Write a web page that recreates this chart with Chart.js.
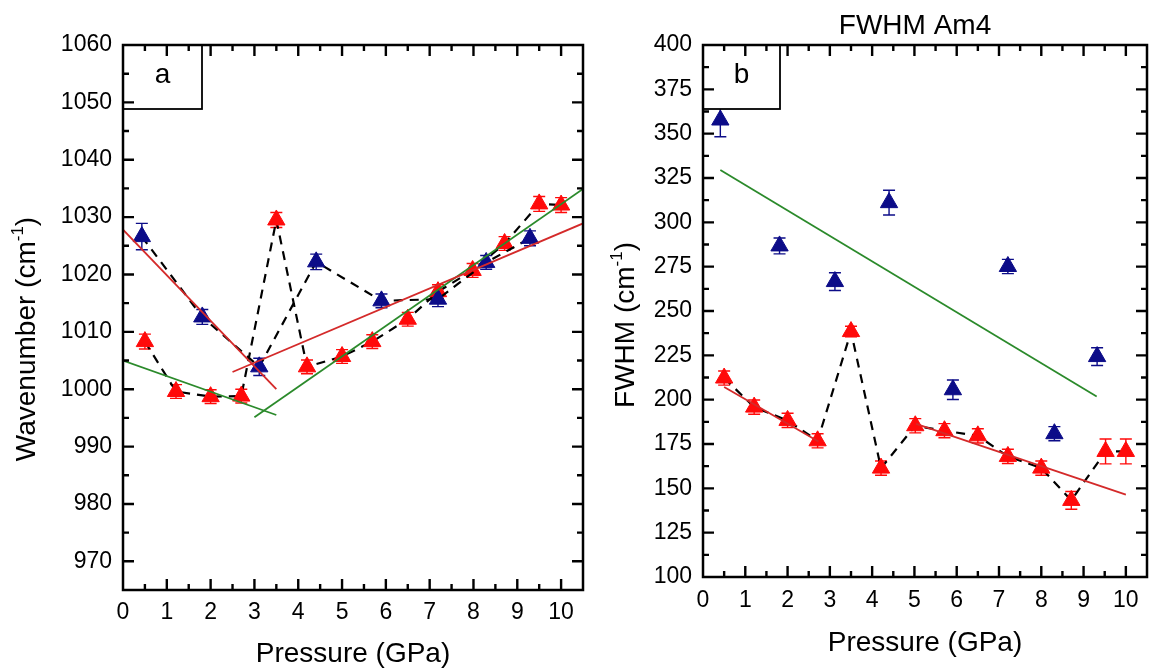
<!DOCTYPE html>
<html>
<head>
<meta charset="utf-8">
<script src="https://cdn.jsdelivr.net/npm/chart.js@4.4.1/dist/chart.umd.min.js"></script>
<style>
  html, body { margin:0; padding:0; background:#fff; }
  body { width:1158px; height:671px; position:relative; overflow:hidden; }
  .wrap { position:absolute; top:0; height:671px; }
</style>
</head>
<body>
<div class="wrap" style="left:0;width:600px;"><canvas id="ca"></canvas></div>
<div class="wrap" style="left:600px;width:558px;"><canvas id="cb"></canvas></div>
<script>
// ---------- DATA ----------
const xTickLabels = [0,1,2,3,4,5,6,7,8,9,10];
const aYTicks = [970,980,990,1000,1010,1020,1030,1040,1050,1060];
const bYTicks = [100,125,150,175,200,225,250,275,300,325,350,375,400];

// Panel a: wavenumber
const aBlueP   = [0.43,1.81,3.11,4.41,5.90,7.19,8.29,9.29];
const aBlueW   = [1026.6,1012.6,1003.9,1022.2,1015.4,1015.7,1022.1,1026.3];
const aBlueErr = [2.3,1.3,1.5,1.35,1.2,1.3,1.2,1.3];
const aRedP    = [0.50,1.21,2.00,2.70,3.50,4.20,5.00,5.69,6.50,7.19,7.98,8.71,9.50,10.00];
const aRedW    = [1008.3,999.6,998.7,998.8,1029.5,1003.9,1005.7,1008.3,1012.2,1017.0,1020.7,1025.4,1032.3,1032.1];
const aRedErr  = [1.3,1.2,1.2,1.2,1.3,1.2,1.2,1.2,1.2,1.2,1.2,1.2,1.3,1.3];
const aFitRed1P = [0, 3.5],    aFitRed1W = [1027.8, 1000.0];
const aFitRed2P = [2.5, 10.5], aFitRed2W = [1003.0, 1028.9];
const aFitGrn1P = [0, 3.5],    aFitGrn1W = [1005.0, 995.5];
const aFitGrn2P = [3.0, 10.5], aFitGrn2W = [995.1, 1034.9];

// Panel b: FWHM
const bBlueP   = [0.41,1.81,3.12,4.40,5.91,7.21,8.31,9.32];
const bBlueF   = [357.7,286.7,266.6,311.1,205.6,275.1,180.8,224.3];
const bBlueErr = [9.4,4.5,5.0,7.0,5.5,4.0,4.0,5.0];
const bRedP    = [0.50,1.21,2.00,2.71,3.50,4.21,5.02,5.71,6.50,7.21,8.00,8.71,9.52,10.00];
const bRedF    = [212.2,195.8,188.3,176.8,238.4,161.4,185.3,182.5,179.6,168.0,161.4,143.2,170.8,170.8];
const bRedErr  = [4,4,4,4,3,4,4,4,4,4,4,5,7,7];
const bFitGrnP  = [0.41, 9.31], bFitGrnF  = [329.5, 201.8];
const bFitRed1P = [0.5, 2.73],  bFitRed1F = [207.1, 176.4];
const bFitRed2P = [5.04, 10.0], bFitRed2F = [186.4, 146.4];

// ---------- STYLE ----------
const FONT = "'Liberation Sans', Arial, Helvetica, sans-serif";
Chart.defaults.font.family = FONT;
Chart.defaults.color = '#000';
const BLUE = '#0c0c88';
const RED = '#ff0a0a';
const FITRED = '#d42a2a';
const FITGRN = '#2b8a2b';

const pts = (xs, ys) => xs.map((x, i) => ({x, y: ys[i]}));

function markerSet(label, xs, ys, errs, color, dashed) {
  return {
    label, data: pts(xs, ys), errors: errs, errColor: color,
    showLine: dashed, borderColor: '#000', borderWidth: 2.2, borderDash: [9,7],
    pointStyle: 'triangle', pointRadius: 10, pointBorderWidth: 1,
    pointBackgroundColor: color, pointBorderColor: color, order: 5
  };
}
function fitSet(label, xs, ys, color) {
  return {
    label, data: pts(xs, ys), borderColor: color, borderWidth: 1.8,
    pointRadius: 0, showLine: true, order: 1
  };
}

const panelPlugin = {
  id: 'panel',
  beforeDatasetsDraw(chart) {
    const ctx = chart.ctx, xs = chart.scales.x, ys = chart.scales.y;
    chart.data.datasets.forEach(ds => {
      if (!ds.errors) return;
      ctx.save();
      ctx.strokeStyle = ds.errColor; ctx.lineWidth = 1.4;
      ds.data.forEach((p, i) => {
        const e = ds.errors[i];
        const px = xs.getPixelForValue(p.x);
        const y1 = ys.getPixelForValue(p.y + e), y2 = ys.getPixelForValue(p.y - e);
        ctx.beginPath();
        ctx.moveTo(px, y1); ctx.lineTo(px, y2);
        ctx.moveTo(px - 6, y1); ctx.lineTo(px + 6, y1);
        ctx.moveTo(px - 6, y2); ctx.lineTo(px + 6, y2);
        ctx.stroke();
      });
      ctx.restore();
    });
  },
  afterDatasetsDraw(chart, args, o) {
    const ctx = chart.ctx, a = chart.chartArea, xs = chart.scales.x, ys = chart.scales.y;
    ctx.save();
    // panel letter box
    ctx.fillStyle = '#fff';
    ctx.fillRect(a.left, a.top, o.boxW, o.boxH);
    ctx.strokeStyle = '#000'; ctx.lineWidth = 1.8;
    ctx.strokeRect(a.left, a.top, o.boxW, o.boxH);
    ctx.fillStyle = '#000';
    ctx.font = `28px ${FONT}`; ctx.textAlign = 'center'; ctx.textBaseline = 'middle';
    ctx.fillText(o.letter, a.left + o.boxW / 2, a.top + o.boxH / 2 - 2);
    // frame
    ctx.lineWidth = 2.5; ctx.strokeStyle = '#000';
    ctx.strokeRect(a.left, a.top, a.right - a.left, a.bottom - a.top);
    // ticks
    const MJ = 11, MN = 6;
    ctx.lineWidth = 2.4;
    ctx.beginPath();
    const xv = [];
    for (let v = xs.min; v <= xs.max + 1e-9; v += 0.5) xv.push(v);
    xv.forEach(v => {
      const px = xs.getPixelForValue(v);
      const L = Math.abs(v - Math.round(v)) < 1e-6 ? MJ : MN;
      if (px <= a.left + 1 || px >= a.right - 1) return;
      ctx.moveTo(px, a.bottom); ctx.lineTo(px, a.bottom - L);
      ctx.moveTo(px, a.top); ctx.lineTo(px, a.top + L);
    });
    const yt = o.yTicks, step = (yt[1] - yt[0]) / 2;
    for (let v = ys.min; v <= ys.max + 1e-9; v += 0.5 * step) {
      const rel = (v - yt[0]) / step;
      if (Math.abs(rel - Math.round(rel)) > 1e-6) continue;
      const py = ys.getPixelForValue(v);
      if (py <= a.top + 1 || py >= a.bottom - 1) continue;
      const L = Math.round(rel) % 2 === 0 ? MJ : MN;
      ctx.moveTo(a.left, py); ctx.lineTo(a.left + L, py);
      ctx.moveTo(a.right, py); ctx.lineTo(a.right - L, py);
    }
    ctx.stroke();
    // y title with superscript
    const S = 28;
    ctx.translate(o.yTitleX, o.yTitleY); ctx.rotate(-Math.PI / 2);
    ctx.textAlign = 'left'; ctx.textBaseline = 'alphabetic';
    ctx.font = `${S}px ${FONT}`; const w1 = ctx.measureText(o.yTitle).width;
    const w3 = ctx.measureText(')').width;
    ctx.font = `${Math.round(S * 0.6)}px ${FONT}`; const w2 = ctx.measureText('-1').width;
    let x0 = -(w1 + w2 + w3) / 2; const by = 0.35 * S;
    ctx.font = `${S}px ${FONT}`; ctx.fillText(o.yTitle, x0, by);
    ctx.font = `${Math.round(S * 0.6)}px ${FONT}`; ctx.fillText('-1', x0 + w1, by - 0.42 * S);
    ctx.font = `${S}px ${FONT}`; ctx.fillText(')', x0 + w1 + w2, by);
    ctx.restore();
    if (o.title) {
      ctx.save();
      ctx.font = `28px ${FONT}`; ctx.fillStyle = '#000';
      ctx.textAlign = 'center'; ctx.textBaseline = 'middle';
      ctx.fillText(o.title, o.titleX, o.titleY);
      ctx.restore();
    }
  }
};

function makeChart(id, datasets, cfg) {
  return new Chart(document.getElementById(id), {
    type: 'line',
    data: { datasets },
    plugins: [panelPlugin],
    options: {
      responsive: true, maintainAspectRatio: false, animation: false,
      layout: { padding: { left: 0, right: cfg.padRight, top: 45, bottom: 0 } },
      plugins: {
        legend: { display: false }, tooltip: { enabled: false },
        panel: cfg.panel
      },
      scales: {
        x: {
          type: 'linear', min: 0, max: 10.5,
          grid: { display: false, drawTicks: false }, border: { display: false },
          afterBuildTicks: s => { s.ticks = xTickLabels.map(v => ({ value: v })); },
          afterFit: s => { s.height = cfg.xAxisH; },
          ticks: { font: { size: 23 }, color: '#000', padding: cfg.xTickPad, maxRotation: 0, autoSkip: false,
                   callback: v => String(v) },
          title: { display: true, text: 'Pressure (GPa)', font: { size: 28 }, color: '#000',
                   padding: { top: 0, bottom: cfg.xTitlePad } }
        },
        y: {
          type: 'linear', min: cfg.yMin, max: cfg.yMax,
          grid: { display: false, drawTicks: false }, border: { display: false },
          afterBuildTicks: s => { s.ticks = cfg.yTicks.map(v => ({ value: v })); },
          afterFit: s => { s.width = cfg.yAxisW; },
          ticks: { font: { size: 23 }, color: '#000', padding: 11, autoSkip: false,
                   callback: v => String(v) }
        }
      }
    }
  });
}

makeChart('ca', [
  fitSet('fit red 1', aFitRed1P, aFitRed1W, FITRED),
  fitSet('fit red 2', aFitRed2P, aFitRed2W, FITRED),
  fitSet('fit green 1', aFitGrn1P, aFitGrn1W, FITGRN),
  fitSet('fit green 2', aFitGrn2P, aFitGrn2W, FITGRN),
  markerSet('blue', aBlueP, aBlueW, aBlueErr, BLUE, true),
  markerSet('red', aRedP, aRedW, aRedErr, RED, true)
], {
  padRight: 17, xAxisH: 81, xTickPad: 9, xTitlePad: 0, yAxisW: 123,
  yMin: 965, yMax: 1060, yTicks: aYTicks,
  panel: { letter: 'a', boxW: 79, boxH: 64, yTicks: aYTicks, yTitle: 'Wavenumber (cm',
           yTitleX: 25, yTitleY: 339 }
});

makeChart('cb', [
  fitSet('fit green', bFitGrnP, bFitGrnF, FITGRN),
  fitSet('fit red 1', bFitRed1P, bFitRed1F, FITRED),
  fitSet('fit red 2', bFitRed2P, bFitRed2F, FITRED),
  markerSet('blue', bBlueP, bBlueF, bBlueErr, BLUE, false),
  markerSet('red', bRedP, bRedF, bRedErr, RED, true)
], {
  padRight: 1, xAxisH: 94, xTickPad: 10, xTitlePad: 11, yAxisW: 103,
  yMin: 100, yMax: 400, yTicks: bYTicks,
  panel: { letter: 'b', boxW: 77, boxH: 64, yTicks: bYTicks, yTitle: 'FWHM (cm',
           yTitleX: 24, yTitleY: 325, title: 'FWHM Am4', titleX: 315, titleY: 26 }
});
</script>
</body>
</html>
